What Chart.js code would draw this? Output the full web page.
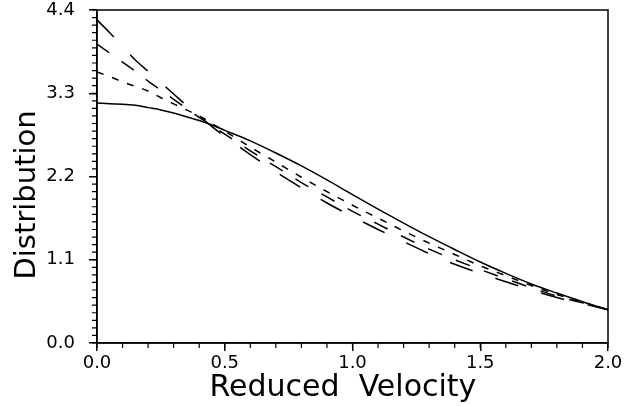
<!DOCTYPE html>
<html><head><meta charset="utf-8">
<script src="https://cdn.jsdelivr.net/npm/chart.js@4.4.1/dist/chart.umd.min.js"></script>
<style>html,body{margin:0;padding:0;background:#fff;}#wrap{width:629px;height:406px;}</style>
</head><body><div id="wrap"><canvas id="c" width="629" height="406"></canvas></div>
<script>
// Reduced velocity sample positions
const velocity = [0,0.05,0.1,0.15,0.2,0.25,0.3,0.35,0.4,0.45,0.5,0.6,0.7,0.8,0.9,1.0,1.1,1.2,1.3,1.4,1.5,1.6,1.7,1.8,1.9,2.0];
// Distribution values
const solidSeries  = [3.17,3.16,3.155,3.14,3.11,3.08,3.04,2.99,2.94,2.88,2.81,2.67,2.51,2.34,2.155,1.96,1.77,1.585,1.405,1.235,1.07,0.92,0.78,0.66,0.545,0.44];
const shortDash    = [3.58,3.52,3.45,3.39,3.33,3.24,3.16,3.08,3.00,2.90,2.80,2.59,2.39,2.19,2.00,1.82,1.65,1.48,1.32,1.17,1.02,0.89,0.76,0.64,0.54,0.44];
const mediumDash   = [3.95,3.83,3.71,3.59,3.46,3.34,3.22,3.10,2.98,2.87,2.76,2.54,2.33,2.12,1.93,1.74,1.57,1.40,1.24,1.10,0.97,0.85,0.73,0.62,0.53,0.44];
const longDash     = [4.27,4.10,3.92,3.74,3.59,3.44,3.29,3.14,3.00,2.86,2.73,2.49,2.26,2.05,1.85,1.67,1.50,1.34,1.18,1.04,0.92,0.81,0.70,0.60,0.52,0.44];
// Tick labels
const xTicks = [0.0,0.5,1.0,1.5,2.0];
const yTicks = [0.0,1.1,2.2,3.3,4.4];
const xMinor = []; for (let i=0;i<=20;i++) xMinor.push(i/10);
const yMinor = []; for (let i=0;i<=44;i++) yMinor.push(i/10);

const pts = arr => velocity.map((v,i)=>({x:v,y:arr[i]}));
const FONT = "'DejaVu Sans', sans-serif";

const frame = {
  id:'frame',
  afterDraw(chart){
    const {ctx, chartArea:a, scales:{x,y}} = chart;
    ctx.save();
    ctx.strokeStyle='#000'; ctx.lineWidth=1.5;
    ctx.strokeRect(a.left,a.top,a.right-a.left,a.bottom-a.top);
    ctx.beginPath();
    xMinor.forEach(v=>{const p=x.getPixelForValue(v); ctx.moveTo(p,a.bottom); ctx.lineTo(p,a.bottom+5);});
    yMinor.forEach(v=>{const p=y.getPixelForValue(v); ctx.moveTo(a.left,p); ctx.lineTo(a.left-5,p);});
    ctx.lineWidth=1.2;
    ctx.stroke();
    ctx.restore();
  }
};

const ds = (data, dash) => ({data: pts(data), borderColor:'#000', borderWidth:1.5, borderDash:dash, pointRadius:0, fill:false, tension:0.3, cubicInterpolationMode:'monotone'});

new Chart(document.getElementById('c'), {
  type:'line',
  data:{datasets:[ds(solidSeries,[]), ds(shortDash,[7,9]), ds(mediumDash,[15,15]), ds(longDash,[24,24])]},
  options:{
    responsive:false, animation:false,
    layout:{padding:{top:10,right:21,left:0,bottom:0}},
    plugins:{legend:{display:false}, tooltip:{enabled:false}},
    scales:{
      x:{type:'linear', min:0, max:2.0,
        afterBuildTicks:s=>{s.ticks=xTicks.map(v=>({value:v}));},
        afterFit:s=>{s.height=63; s.paddingLeft=0; s.paddingRight=0;},
        grid:{drawOnChartArea:false, drawTicks:true, tickLength:8, color:'#000', lineWidth:1.5},
        border:{display:true,color:'#000',width:1.5},
        ticks:{font:{family:FONT,size:18}, color:'#000', padding:2, maxRotation:0, callback:v=>Number(v).toFixed(1)},
        title:{display:true, text:'Reduced  Velocity  ', font:{family:FONT,size:30}, color:'#000', padding:{top:0,bottom:0}}
      },
      y:{type:'linear', min:0, max:4.4,
        afterBuildTicks:s=>{s.ticks=yTicks.map(v=>({value:v}));},
        afterFit:s=>{s.width=97; s.paddingTop=0; s.paddingBottom=0;},
        grid:{drawOnChartArea:false, drawTicks:true, tickLength:8, color:'#000', lineWidth:1.5},
        border:{display:true,color:'#000',width:1.5},
        ticks:{font:{family:FONT,size:18}, color:'#000', padding:14, callback:v=>Number(v).toFixed(1)},
        title:{display:true, text:'Distribution    ', font:{family:FONT,size:29}, color:'#000', padding:{top:10,bottom:0}}
      }
    }
  },
  plugins:[frame]
});
</script></body></html>
